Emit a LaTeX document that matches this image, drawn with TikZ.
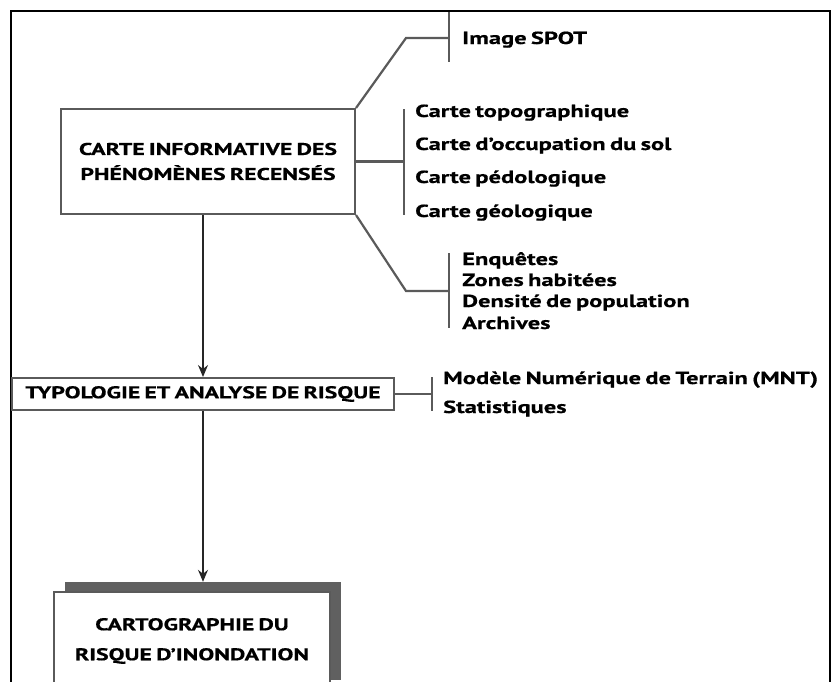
\documentclass[tikz,border=0pt]{standalone}
\usepackage{fontspec}
\setmainfont{PT Sans}[FakeStretch=1.4, WordSpace=0.7, BoldFeatures={FakeBold=0.6}]
\usetikzlibrary{arrows.meta}
\definecolor{linegray}{HTML}{5A5A5A}
\definecolor{shadowgray}{HTML}{606060}
\begin{document}
\begin{tikzpicture}[x=1pt,y=-1pt,
  conn/.style={draw=linegray, line width=2.2pt},
  arr/.style={draw=black!85, line width=1.2pt, -{Stealth[length=12pt,width=10pt,inset=4pt]}},
  box/.style={draw=linegray, line width=2pt, fill=white, rectangle, inner sep=0pt,
    align=center, font=\bfseries\fontsize{17}{25}\selectfont},
  lbl/.style={anchor=base west, inner sep=0pt, font=\bfseries\fontsize{17.5}{18}\selectfont}]
\useasboundingbox (0,0) rectangle (831,681);
\clip (0,0) rectangle (831,681);
% outer frame
\draw[line width=2.2pt, black] (11,700) -- (11,11) -- (830,11) -- (830,700);

% boxes
\node[box, minimum width=294pt, minimum height=105pt] (box1) at (208,161.5)
  {CARTE INFORMATIVE DES\\PHÉNOMÈNES RECENSÉS};
\node[box, minimum width=382pt, minimum height=32pt] (box2) at (203,394)
  {TYPOLOGIE ET ANALYSE DE RISQUE};
\node[rectangle, fill=shadowgray, inner sep=0pt, minimum width=276pt, minimum height=98pt] (box3s) at (203,631) {};
\node[box, minimum width=276pt, minimum height=98pt, font=\bfseries\fontsize{17}{30}\selectfont] (box3) at (192,641)
  {CARTOGRAPHIE DU\\RISQUE D’INONDATION};

% arrows
\draw[arr] (box1.south -| box2.north) -- (box2.north);
\draw[arr] (box2.south) -- (box3s.north);

% branch 1
\coordinate (k1) at (406,38);
\coordinate (b1) at (449,38);
\coordinate (b1t) at (449,12);
\coordinate (b1b) at (449,62);
\draw[conn] (box1.north east) -- (k1) -- (b1);
\draw[conn] (b1t) -- (b1b);
\node[lbl] (t1) at (462,44) {Image SPOT};

% branch 2
\coordinate (b2) at (404,161.5);
\coordinate (b2t) at (404,109);
\coordinate (b2b) at (404,215);
\draw[conn] (box1.east) -- (b2);
\draw[conn] (b2t) -- (b2b);
\node[lbl] (t2a) at (415,117) {Carte topographique};
\node[lbl] (t2b) at (415,150) {Carte d’occupation du sol};
\node[lbl] (t2c) at (415,183) {Carte pédologique};
\node[lbl] (t2d) at (415,217) {Carte géologique};

% branch 3
\coordinate (k3) at (406,291);
\coordinate (b3) at (449,291);
\coordinate (b3t) at (449,253);
\coordinate (b3b) at (449,328);
\draw[conn] (box1.south east) -- (k3) -- (b3);
\draw[conn] (b3t) -- (b3b);
\node[lbl] (t3a) at (462,265) {Enquêtes};
\node[lbl] (t3b) at (462,286) {Zones habitées};
\node[lbl] (t3c) at (462,307) {Densité de population};
\node[lbl] (t3d) at (462,329) {Archives};

% branch 4
\coordinate (b4) at (432,394);
\coordinate (b4t) at (432,377);
\coordinate (b4b) at (432,411);
\draw[conn] (box2.east) -- (b4);
\draw[conn] (b4t) -- (b4b);
\node[lbl] (t4a) at (443,384) {Modèle Numérique de Terrain (MNT)};
\node[lbl] (t4b) at (443,413) {Statistiques};
\end{tikzpicture}
\end{document}
